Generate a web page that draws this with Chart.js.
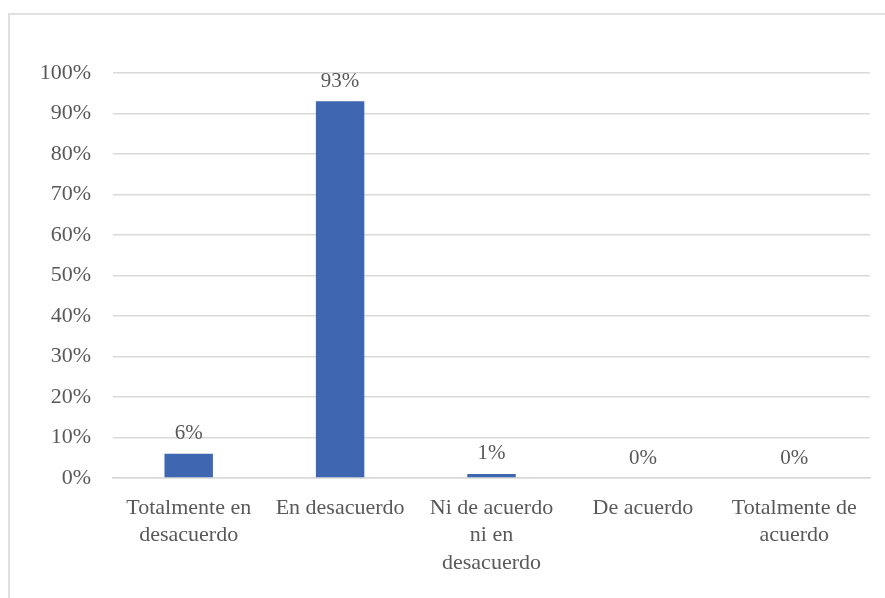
<!DOCTYPE html>
<html>
<head>
<meta charset="utf-8">
<script src="https://cdn.jsdelivr.net/npm/chart.js@4"></script>
<style>
  html, body { margin: 0; padding: 0; background: #fff; }
  #wrap { position: relative; width: 885px; height: 598px; overflow: hidden; }
  #frame { position: absolute; left: 8px; top: 13px; width: 900px; height: 620px; border: 2px solid #e0e0e0; box-sizing: border-box; }
  canvas { position: absolute; left: 0; top: 0; }
</style>
</head>
<body>
<div id="wrap">
  <div id="frame"></div>
  <canvas id="c" width="885" height="598"></canvas>
</div>
<script>
const categories = [
  ["Totalmente en", "desacuerdo"],
  ["En desacuerdo"],
  ["Ni de acuerdo", "ni en", "desacuerdo"],
  ["De acuerdo"],
  ["Totalmente de", "acuerdo"]
];
const values = [6, 93, 1, 0, 0];
const valueLabels = ["6%", "93%", "1%", "0%", "0%"];

const textColor = "#595959";
const fontFamily = "'Liberation Serif', 'Times New Roman', serif";

const labelPlugin = {
  id: "barLabels",
  afterDatasetsDraw(chart) {
    const ctx = chart.ctx;
    const meta = chart.getDatasetMeta(0);
    ctx.save();
    ctx.fillStyle = textColor;
    ctx.font = "21px " + fontFamily;
    ctx.textAlign = "center";
    ctx.textBaseline = "middle";
    meta.data.forEach((bar, i) => {
      ctx.fillText(valueLabels[i], bar.x, bar.y - 20);
    });
    ctx.restore();
  }
};

new Chart(document.getElementById("c"), {
  type: "bar",
  data: {
    labels: categories,
    datasets: [{
      data: values,
      backgroundColor: "#3F67B1",
      borderWidth: 0,
      barPercentage: 0.64,
      categoryPercentage: 0.5
    }]
  },
  options: {
    responsive: false,
    animation: false,
    layout: { padding: { left: 0, top: 73, right: 15, bottom: 0 } },
    plugins: { legend: { display: false }, tooltip: { enabled: false } },
    scales: {
      x: {
        grid: { display: false, drawTicks: false },
        border: { display: true, color: "#d9d9d9", width: 1.5 },
        ticks: {
          color: textColor,
          font: { family: fontFamily, size: 22, lineHeight: 1.25 },
          padding: 16,
          maxRotation: 0,
          autoSkip: false
        },
        afterFit(scale) { scale.height = 120; }
      },
      y: {
        min: 0,
        max: 100,
        grid: { color: "#d9d9d9", lineWidth: 1.5, drawTicks: false },
        border: { display: false },
        ticks: {
          stepSize: 10,
          color: textColor,
          font: { family: fontFamily, size: 22 },
          padding: 22,
          callback: v => v + "%"
        },
        afterFit(scale) { scale.width = 113; }
      }
    }
  },
  plugins: [labelPlugin]
});
</script>
</body>
</html>
